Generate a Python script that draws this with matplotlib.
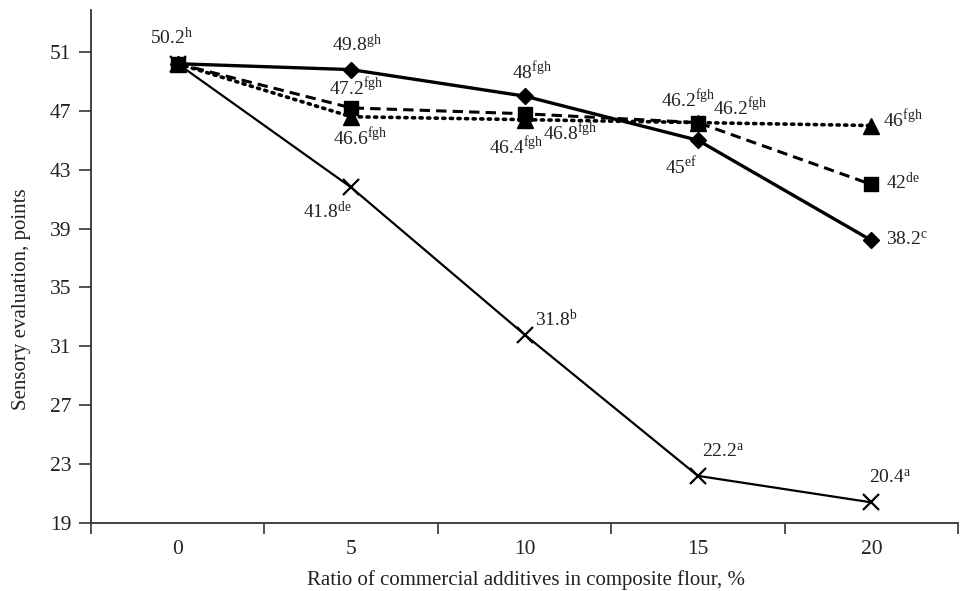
import matplotlib
matplotlib.use("Agg")
import matplotlib.pyplot as plt
from matplotlib.ticker import FixedLocator, NullFormatter

plt.rcParams['font.family'] = ['Liberation Serif', 'DejaVu Serif']
plt.rcParams['mathtext.fontset'] = 'custom'
plt.rcParams['mathtext.rm'] = 'Liberation Serif'
plt.rcParams['mathtext.it'] = 'Liberation Serif:italic'

categories = ['0', '5', '10', '15', '20']
diamond_vals = [50.2, 49.8, 48.0, 45.0, 38.2]
square_vals = [50.2, 47.2, 46.8, 46.2, 42.0]
triangle_vals = [50.2, 46.6, 46.4, 46.2, 46.0]
cross_vals = [50.2, 41.8, 31.8, 22.2, 20.4]

diamond_sup = ['h', 'gh', 'fgh', 'ef', 'c']
square_sup = [None, 'fgh', 'fgh', 'fgh', 'de']
triangle_sup = [None, 'fgh', 'fgh', 'fgh', 'fgh']
cross_sup = [None, 'de', 'b', 'a', 'a']

y_ticks = [19, 23, 27, 31, 35, 39, 43, 47, 51]

fig = plt.figure(figsize=(9.64, 5.91), dpi=100)
ax = fig.add_axes([0.0944, 0.1151, 0.8994, 0.868])

x = list(range(len(categories)))
lc = '#000000'
ax.plot(x, cross_vals, color=lc, lw=1.6, marker='x', ms=11, mew=1.6, zorder=3)
ax.plot(x, triangle_vals, color=lc, lw=2.6, ls=(0, (0.6, 1.5)), dash_capstyle='round',
        marker='^', ms=11, zorder=4)
ax.plot(x, square_vals, color=lc, lw=2.2, ls=(0, (3.4, 2.0)), marker='s', ms=10, zorder=5)
ax.plot(x, diamond_vals, color=lc, lw=2.4, marker='D', ms=8, zorder=6)

def lab(i, vals, sups, dx, dy, ha):
    v = vals[i]
    s = sups[i]
    num = ('%g' % v)
    txt = num + r'$^{\mathrm{' + s + r'}}$'
    ax.annotate(txt, (x[i], v), xytext=(dx, dy), textcoords='offset pixels',
                ha=ha, va='center', fontsize=14, color='#222222', zorder=10)

# diamond labels
lab(0, diamond_vals, diamond_sup, -6, 26, 'center')
lab(1, diamond_vals, diamond_sup, 6, 25, 'center')
lab(2, diamond_vals, diamond_sup, 7, 24, 'center')
lab(3, diamond_vals, diamond_sup, -1, -27, 'right')
lab(4, diamond_vals, diamond_sup, 15, 0, 'left')
# square labels
lab(1, square_vals, square_sup, 5, 20, 'center')
lab(2, square_vals, square_sup, 18, -19, 'left')
lab(3, square_vals, square_sup, -10, 23, 'center')
lab(4, square_vals, square_sup, 15, 2, 'left')
# triangle labels
lab(1, triangle_vals, triangle_sup, 9, -21, 'center')
lab(2, triangle_vals, triangle_sup, -8, -27, 'center')
lab(3, triangle_vals, triangle_sup, 15, 15, 'left')
lab(4, triangle_vals, triangle_sup, 12, 6, 'left')
# cross labels
lab(1, cross_vals, cross_sup, 1, -24, 'right')
lab(2, cross_vals, cross_sup, 10, 15, 'left')
lab(3, cross_vals, cross_sup, 4, 24, 'left')
lab(4, cross_vals, cross_sup, -2, 24, 'left')

ax.set_xlim(-0.5, len(categories) - 0.5)
ax.set_ylim(19, 53.85)
ax.set_yticks(y_ticks)
ax.set_yticklabels([str(t) for t in y_ticks])
ax.set_xticks(x)
ax.set_xticklabels(categories)
ax.xaxis.set_minor_locator(FixedLocator([i - 0.5 for i in range(len(categories) + 1)]))
ax.xaxis.set_minor_formatter(NullFormatter())
ax.tick_params(axis='x', which='major', length=0, pad=12, labelsize=15.5, colors='#222222')
ax.tick_params(axis='x', which='minor', length=8, width=1.2, direction='out', color='#333333')
ax.tick_params(axis='y', which='major', length=9, width=1.2, direction='out', labelsize=15.5,
               color='#333333', labelcolor='#222222', pad=5)

for side in ['top', 'right']:
    ax.spines[side].set_visible(False)
for side in ['left', 'bottom']:
    ax.spines[side].set_linewidth(1.3)
    ax.spines[side].set_color('#333333')

ax.set_xlabel('Ratio of commercial additives in composite flour, %', fontsize=15,
              color='#222222')
ax.xaxis.label.set_va('center')
ax.xaxis.set_label_coords(0.502, -0.111)
ax.set_ylabel('Sensory evaluation, points', fontsize=15, color='#222222')
ax.yaxis.label.set_va('center')
ax.yaxis.set_label_coords(-0.0796, 0.4366)

fig.savefig('out.png', dpi=100)
